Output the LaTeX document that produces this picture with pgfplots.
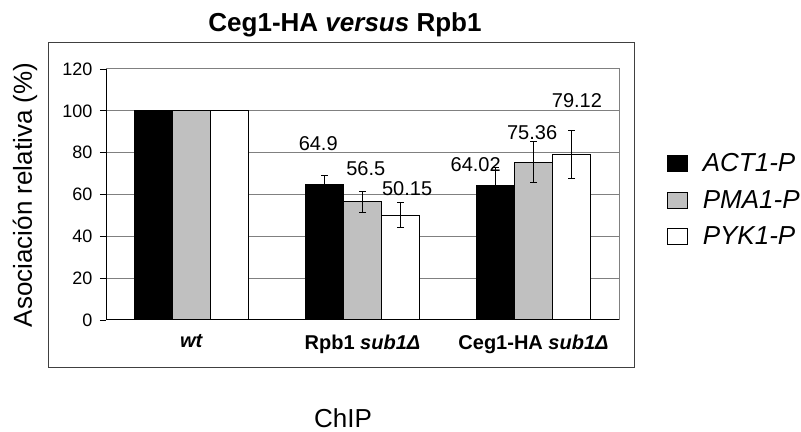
\documentclass[border=0pt]{standalone}
\usepackage{pgfplots}
\pgfplotsset{compat=1.18}
\usepackage{pgfplotstable}
\usepackage{fontspec}
\setmainfont{Liberation Sans}

\pgfplotstableread{
x a ea b eb c ec
0 100 0 100 0 100 0
1 64.9 4.1 56.5 5.05 50.15 5.85
2 64.02 9 75.36 9.8 79.12 11.3
}\datatab

\definecolor{barGray}{HTML}{C0C0C0}
\definecolor{gridGray}{HTML}{808080}

\begin{document}
\begin{tikzpicture}
\path[use as bounding box] (0,0) rectangle (801bp,432bp);
\draw[black!75, line width=1bp] (48bp,64bp) rectangle (634bp,389bp);
\node[anchor=base, font=\fontsize{26bp}{30bp}\selectfont\bfseries] at (345bp,400bp) {Ceg1-HA \textit{versus} Rpb1};
\node[rotate=90, font=\fontsize{26bp}{30bp}\selectfont] at (25bp,237bp) {Asociación relativa (\%)};
\node[anchor=base, font=\fontsize{26bp}{30bp}\selectfont] at (343bp,5bp) {ChIP};
\begin{axis}[
  at={(106bp,112bp)}, anchor=south west, scale only axis,
  width=513bp, height=251bp,
  ybar=0pt, bar width=38bp,
  xmin=-0.5, xmax=2.5, ymin=0, ymax=120,
  ytick={0,20,...,120},
  xtick={0,1,2},
  xticklabels={\textbf{\textit{wt}}, \textbf{Rpb1 \textit{sub1Δ}}, \textbf{Ceg1-HA \textit{sub1Δ}}},
  xtick style={draw=none},
  tick pos=left, tick align=outside, major tick length=6bp,
  ytick style={black, line width=0.8bp},
  axis line style={draw=gridGray, line width=1bp},
  ymajorgrids, grid style={gridGray, line width=1bp},
  /pgf/number format/assume math mode=true,
  yticklabel style={font=\fontsize{18bp}{20bp}\selectfont, xshift=-4bp},
  xticklabel style={font=\fontsize{20bp}{22bp}\selectfont, yshift=-5bp},
  error bars/y dir=both, error bars/y explicit,
  error bars/error bar style={black, line width=0.9bp},
  error bars/error mark options={rotate=90, mark size=3.5bp, black, line width=0.9bp},
  legend style={at={(axis description cs:1.0936,0.478)}, anchor=west, draw=none, fill=none,
    inner sep=0pt, row sep=13bp, font=\fontsize{26bp}{30bp}\selectfont\itshape,
    cells={anchor=west},
    /tikz/every odd column/.append style={column sep=13bp}},
  legend image code/.code={\draw[#1, line width=0.6bp] (0bp,-8bp) rectangle (20bp,8bp);},
]
\addplot[fill=black, draw=black, line width=1.2bp] table[x=x, y=a, y error=ea]{\datatab};
\addplot[fill=barGray, draw=black, line width=1.2bp] table[x=x, y=b, y error=eb]{\datatab};
\addplot[fill=white, draw=black, line width=1.2bp] table[x=x, y=c, y error=ec]{\datatab};
\legend{ACT1-P, PMA1-P, PYK1-P}
\draw[black, line width=1.2bp] (rel axis cs:0,1) -- (rel axis cs:0,0) -- (rel axis cs:1,0);
\draw[black, line width=0.8bp] (axis cs:0.5,0) -- ++(0,-6bp);
\draw[black, line width=0.8bp] (axis cs:1.5,0) -- ++(0,-6bp);
\begin{scope}[every node/.style={font=\fontsize{20bp}{22bp}\selectfont}]
\node at (axis cs:0.741,84.3) {64.9};
\node at (axis cs:1.019,72.2) {56.5};
\node at (axis cs:1.261,62.6) {50.15};
\node at (axis cs:1.662,74.3) {64.02};
\node at (axis cs:1.992,89.6) {75.36};
\node at (axis cs:2.254,104.8) {79.12};
\end{scope}
\end{axis}
\end{tikzpicture}
\end{document}
